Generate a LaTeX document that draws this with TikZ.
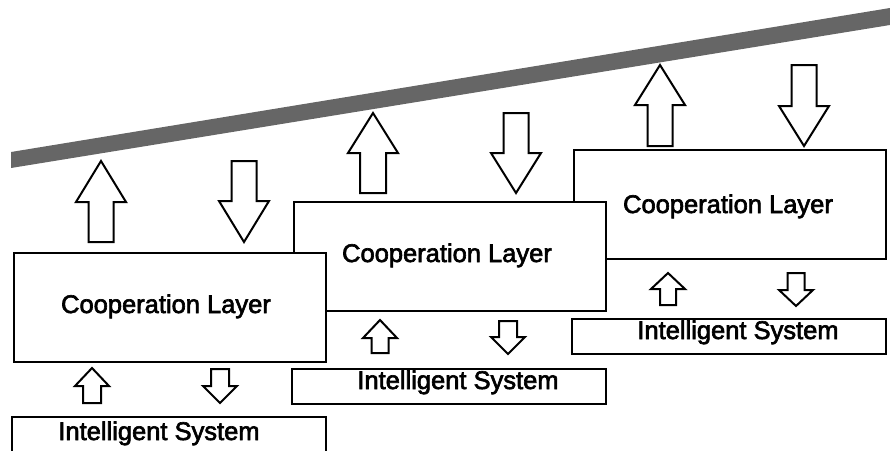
\documentclass[tikz,border=0pt]{standalone}
\usepackage{fontspec}
\setmainfont{Liberation Sans}
\newfontface\lblface{Liberation Sans}[FakeBold=2.5]
\newcommand\uparr[6]{% cx, tip, headbase, bottom, shafthalf, headhalf
  \draw[blk] (#1-#5,#4) -- (#1-#5,#3) -- (#1-#6,#3) -- (#1,#2) -- (#1+#6,#3) -- (#1+#5,#3) -- (#1+#5,#4) -- cycle;}
\newcommand\downarr[6]{% cx, top, headbase, tip, shafthalf, headhalf
  \draw[blk] (#1-#5,#2) -- (#1-#5,#3) -- (#1-#6,#3) -- (#1,#4) -- (#1+#6,#3) -- (#1+#5,#3) -- (#1+#5,#2) -- cycle;}
\begin{document}
\begin{tikzpicture}[x=1pt,y=-1pt,
  blk/.style={draw=black,fill=white,line width=2pt,line join=miter},
  layer/.style={draw=black,fill=white,line width=2pt},
  lbl/.style={font=\lblface\fontsize{25.5}{28}\selectfont,inner sep=0pt,anchor=base}]
\useasboundingbox (0,0) rectangle (890,450);
\clip (0,0) rectangle (890,450);
% band
\fill[black!60] (11,152) -- (890,8) -- (890,25) -- (11,168) -- cycle;
% ---------- unit 3 ----------
\uparr{660}{65}{105}{146}{12.5}{25}
\downarr{804}{65}{106}{146}{12.5}{25}
\draw[layer] (574,150) rectangle (886,259);
\node[lbl] (c3) at (728,213) {Cooperation Layer};
\uparr{668}{273}{289}{305}{8}{17}
\downarr{796}{273}{290}{306}{8.5}{17}
\draw[layer] (572,319) rectangle (886,354);
\node[lbl] (i3) at (738,339) {Intelligent System};
% ---------- unit 2 ----------
\uparr{373}{113}{153}{193}{13}{25}
\downarr{516}{113}{153}{193}{12.5}{25}
\draw[layer] (294,202) rectangle (606,311);
\node[lbl] (c2) at (447,262) {Cooperation Layer};
\uparr{380}{320}{338}{353}{8.5}{17}
\downarr{508}{321}{337}{354}{9}{17}
\draw[layer] (292,369) rectangle (606,404);
\node[lbl] (i2) at (458,389) {Intelligent System};
% ---------- unit 1 ----------
\uparr{101}{161}{202}{242}{12.5}{25}
\downarr{244}{161}{201}{242}{12.5}{25}
\draw[layer] (14,253) rectangle (326,362);
\node[lbl] (c1) at (166,313) {Cooperation Layer};
\uparr{92}{368}{386}{403}{9}{17}
\downarr{220}{369}{386}{403}{9}{17}
\draw[layer] (12,417) rectangle (326,470);
\node[lbl] (i1) at (159,440) {Intelligent System};
\end{tikzpicture}
\end{document}
